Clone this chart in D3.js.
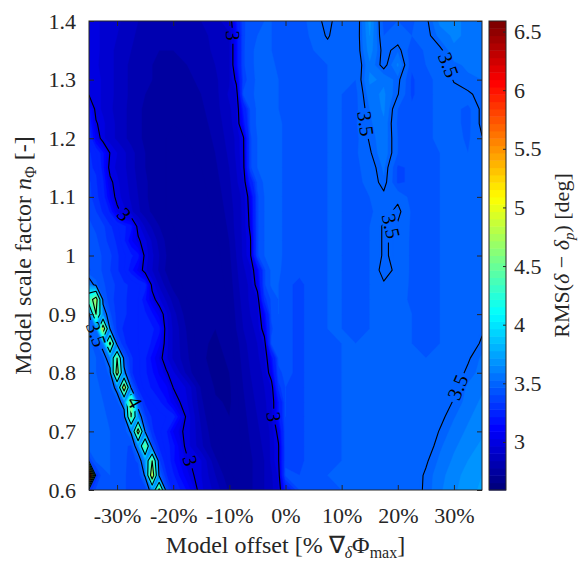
<!DOCTYPE html>
<html>
<head>
<meta charset="utf-8">
<script src="https://cdn.jsdelivr.net/npm/d3@7"></script>
<style>
  body { margin: 0; background: #fff; }
  svg { display: block; }
  svg text { font-family: "Liberation Serif", "Times New Roman", serif !important; }
</style>
</head>
<body>
<svg id="chart" width="580" height="563"></svg>
<script>
// Grid columns: model offset in % of the max gradient
const xPct = [-35, -33.75, -32.5, -31.25, -30, -28.75, -27.5, -26.25, -25, -23.75, -22.5, -21.25, -20,
  -17.5, -15, -12.5,
  -10, -8.75, -7.5, -6.25, -5, -3.75, -2.5, -1.25, 0,
  2.5, 5, 7.5, 10, 12.5, 15, 17.5, 20, 22.5, 25, 27.5, 30, 32.5, 35];

// Grid rows: model scale factor, top row first
const yGrid = [1.4, 1.375, 1.35, 1.325, 1.3, 1.275, 1.25, 1.225, 1.2, 1.175, 1.15, 1.125, 1.1, 1.075, 1.05, 1.025, 1.0,
  0.975, 0.95, 0.925, 0.9, 0.875, 0.85, 0.825, 0.8, 0.775, 0.75, 0.725, 0.7, 0.675, 0.65, 0.625, 0.6];

// RMS(delta - delta_p) in degrees, one row per scale factor
const rms = [
  [2.97,2.95,2.93,2.91,2.90,2.88,2.86,2.84,2.83,2.82,2.81,2.81,2.81,2.82,2.84,2.87, 2.92,3.17,3.38, 3.42,3.43,3.44,3.44,3.43,3.42,3.42, 3.46,3.53,3.44,3.44,3.66,3.42,3.44,3.43,3.48,3.605,3.60,3.58,3.57],
  [2.97,2.95,2.93,2.91,2.89,2.87,2.85,2.83,2.82,2.81,2.80,2.80,2.80,2.81,2.83,2.85, 2.88,3.12,3.38, 3.42,3.44,3.45,3.44,3.43,3.42,3.42, 3.45,3.51,3.44,3.45,3.64,3.44,3.45,3.44,3.47,3.56,3.60,3.58,3.57],
  [2.98,2.95,2.93,2.90,2.88,2.86,2.84,2.82,2.81,2.80,2.79,2.79,2.79,2.80,2.82,2.85, 2.88,3.12,3.38, 3.43,3.45,3.45,3.44,3.43,3.42,3.42, 3.44,3.47,3.44,3.45,3.62,3.47,3.53,3.40,3.45,3.48,3.58,3.57,3.56],
  [2.98,2.95,2.92,2.90,2.88,2.85,2.83,2.81,2.80,2.79,2.78,2.78,2.78,2.79,2.81,2.84, 2.88,3.12,3.38, 3.43,3.45,3.46,3.45,3.43,3.42,3.42, 3.43,3.44,3.44,3.44,3.58,3.47,3.60,3.40,3.44,3.46,3.527,3.55,3.55],
  [2.98,2.96,2.93,2.90,2.88,2.85,2.83,2.81,2.80,2.79,2.78,2.77,2.77,2.78,2.80,2.83, 2.88,3.03,3.36, 3.42,3.45,3.46,3.45,3.44,3.42,3.42, 3.43,3.44,3.44,3.44,3.60,3.58,3.52,3.38,3.43,3.45,3.505,3.53,3.54],
  [2.99,2.96,2.93,2.90,2.88,2.85,2.83,2.81,2.79,2.78,2.77,2.76,2.76,2.77,2.79,2.82, 2.90,2.94,3.40, 3.43,3.45,3.46,3.45,3.44,3.43,3.42, 3.43,3.44,3.44,3.42,3.57,3.60,3.505,3.38,3.43,3.45,3.48,3.49,3.52],
  [3.16,2.96,2.93,2.90,2.87,2.85,2.82,2.80,2.78,2.77,2.76,2.75,2.75,2.76,2.78,2.82, 2.88,2.92,3.20,3.40, 3.45,3.46,3.46,3.44,3.43,3.42, 3.43,3.44,3.44,3.42,3.54,3.60,3.44,3.40,3.43,3.45,3.46,3.42,3.52],
  [3.20,3.013,2.95,2.91,2.88,2.85,2.82,2.80,2.78,2.76,2.75,2.74,2.74,2.75,2.77,2.81, 2.87,2.92,3.14,3.40, 3.45,3.46,3.46,3.45,3.43,3.42, 3.43,3.44,3.44,3.43,3.53,3.58,3.43,3.41,3.43,3.45,3.46,3.42,3.52],
  [3.25,3.075,2.95,2.91,2.88,2.85,2.82,2.80,2.78,2.76,2.75,2.74,2.73,2.74,2.76,2.80, 2.86,2.90,2.985,3.38, 3.44,3.46,3.46,3.45,3.43,3.42, 3.43,3.44,3.44,3.42,3.51,3.58,3.44,3.41,3.43,3.45,3.46,3.43,3.495],
  [3.30,3.25,3.15,2.995,2.94,2.90,2.86,2.82,2.79,2.77,2.75,2.74,2.73,2.73,2.75,2.79, 2.85,2.90,2.98,3.38, 3.44,3.46,3.46,3.45,3.43,3.42, 3.43,3.44,3.44,3.43,3.49,3.58,3.44,3.41,3.43,3.44,3.45,3.44,3.46],
  [3.30,3.28,3.16,2.96,2.93,2.90,2.86,2.82,2.79,2.77,2.75,2.74,2.73,2.73,2.74,2.78, 2.84,2.89,2.97,3.38, 3.44,3.46,3.46,3.45,3.43,3.42, 3.43,3.44,3.44,3.43,3.46,3.55,3.38,3.40,3.42,3.44,3.45,3.44,3.45],
  [3.35,3.30,3.20,3.03,2.95,2.91,2.87,2.83,2.80,2.77,2.75,2.74,2.73,2.72,2.73,2.77, 2.83,2.88,2.93,3.22,3.40, 3.45,3.46,3.45,3.43,3.42, 3.43,3.44,3.44,3.43,3.45,3.53,3.38,3.40,3.42,3.44,3.45,3.44,3.45],
  [3.35,3.32,3.22,3.085,2.96,2.92,2.88,2.84,2.80,2.77,2.75,2.74,2.73,2.72,2.72,2.76, 2.82,2.87,2.90,3.06,3.38, 3.44,3.46,3.45,3.43,3.42, 3.43,3.44,3.44,3.43,3.44,3.48,3.48,3.42,3.42,3.44,3.45,3.44,3.45],
  [3.38,3.34,3.28,3.18,3.035,2.95,2.90,2.85,2.81,2.78,2.76,2.74,2.73,2.72,2.72,2.75, 2.81,2.86,2.90,3.04,3.38, 3.44,3.46,3.45,3.43,3.42, 3.43,3.44,3.44,3.43,3.43,3.47,3.52,3.43,3.42,3.44,3.45,3.44,3.45],
  [3.40,3.38,3.35,3.30,3.25,3.20,3.16,2.96,2.88,2.83,2.79,2.76,2.74,2.72,2.71,2.74, 2.80,2.86,2.90,3.025,3.38, 3.44,3.46,3.45,3.43,3.42, 3.43,3.44,3.44,3.43,3.44,3.51,3.49,3.43,3.42,3.44,3.45,3.44,3.45],
  [3.42,3.40,3.36,3.32,3.28,3.20,3.10,3.02,2.95,2.88,2.82,2.78,2.75,2.72,2.71,2.73, 2.79,2.85,2.90,2.99,3.38, 3.44,3.46,3.45,3.43,3.42, 3.43,3.44,3.44,3.43,3.44,3.51,3.48,3.43,3.42,3.44,3.45,3.44,3.45],
  [3.42,3.42,3.38,3.35,3.30,3.25,3.20,3.16,2.97,2.90,2.84,2.79,2.76,2.72,2.70,2.72, 2.78,2.84,2.90,2.985,3.38, 3.44,3.46,3.45,3.43,3.42, 3.43,3.44,3.44,3.43,3.44,3.51,3.48,3.43,3.42,3.44,3.45,3.44,3.45],
  [3.38,3.42,3.38,3.34,3.30,3.24,3.16,3.075,2.95,2.89,2.83,2.78,2.75,2.72,2.70,2.71, 2.77,2.83,2.88,2.92,3.10,3.38, 3.45,3.45,3.42,3.40, 3.42,3.44,3.44,3.43,3.44,3.53,3.48,3.43,3.42,3.44,3.45,3.44,3.45],
  [3.60,3.45,3.40,3.36,3.33,3.30,3.28,3.25,3.22,2.97,2.88,2.82,2.77,2.72,2.70,2.70, 2.76,2.82,2.87,2.90,3.05,3.38, 3.45,3.44,3.40,3.38, 3.41,3.44,3.44,3.43,3.44,3.49,3.47,3.43,3.42,3.44,3.45,3.45,3.46],
  [4.30,4.70,3.45,3.35,3.33,3.30,3.27,3.24,3.15,3.04,2.95,2.88,2.82,2.74,2.70,2.70, 2.75,2.81,2.86,2.90,2.94,3.315,3.40, 3.44,3.40,3.38, 3.41,3.44,3.44,3.43,3.44,3.46,3.46,3.43,3.42,3.44,3.45,3.46,3.47],
  [3.45,4.50,3.60,3.40,3.32,3.30,3.27,3.24,3.20,3.15,3.065,2.95,2.86,2.76,2.70,2.70, 2.74,2.80,2.85,2.89,2.92,3.12,3.40, 3.44,3.40,3.38, 3.41,3.44,3.44,3.43,3.44,3.46,3.46,3.44,3.43,3.44,3.46,3.47,3.48],
  [3.45,3.55,4.80,3.48,3.32,3.28,3.26,3.24,3.22,3.20,3.16,2.96,2.88,2.78,2.70,2.69, 2.73,2.79,2.84,2.88,2.90,3.06,3.38, 3.43,3.40,3.38, 3.41,3.44,3.44,3.43,3.44,3.45,3.45,3.44,3.43,3.44,3.46,3.47,3.49],
  [3.45,3.42,3.58,4.60,3.40,3.30,3.26,3.24,3.22,3.18,3.10,2.96,2.88,2.79,2.70,2.68, 2.71,2.77,2.82,2.86,2.89,2.95,3.40, 3.42,3.40,3.38, 3.41,3.43,3.44,3.44,3.44,3.45,3.45,3.44,3.43,3.44,3.45,3.46,3.51],
  [3.46,3.44,3.42,3.60,4.50,3.42,3.30,3.25,3.20,3.12,3.035,2.95,2.88,2.80,2.70,2.67, 2.70,2.76,2.81,2.85,2.88,2.92,3.14,3.40, 3.40,3.38, 3.41,3.43,3.44,3.44,3.44,3.45,3.45,3.44,3.44,3.44,3.46,3.49,3.55],
  [3.46,3.44,3.42,3.45,4.70,3.55,3.30,3.25,3.20,3.15,3.08,3.013,2.95,2.82,2.72,2.67, 2.69,2.75,2.80,2.84,2.87,2.90,3.07,3.38, 3.40,3.38, 3.41,3.43,3.44,3.44,3.44,3.45,3.45,3.45,3.44,3.45,3.46,3.515,3.56],
  [3.46,3.45,3.43,3.42,3.55,4.80,3.45,3.28,3.22,3.18,3.14,3.10,2.998,2.93,2.78,2.68, 2.68,2.73,2.79,2.83,2.86,2.89,2.94,3.315, 3.39,3.38, 3.41,3.43,3.44,3.44,3.45,3.45,3.45,3.45,3.45,3.45,3.48,3.55,3.58],
  [3.47,3.46,3.44,3.43,3.42,3.58,4.60,3.40,3.28,3.24,3.20,3.15,3.055,2.94,2.80,2.70, 2.68,2.72,2.78,2.82,2.85,2.88,2.92,3.17, 3.39,3.38, 3.41,3.43,3.44,3.44,3.45,3.45,3.45,3.45,3.45,3.45,3.507,3.56,3.60],
  [3.47,3.46,3.45,3.43,3.42,3.42,4.50,3.62,3.35,3.28,3.26,3.24,3.22,2.97,2.82,2.72, 2.69,2.72,2.77,2.81,2.84,2.87,2.92,3.17, 3.39,3.38, 3.41,3.43,3.44,3.44,3.45,3.45,3.45,3.45,3.46,3.48,3.535,3.58,3.62],
  [3.47,3.46,3.45,3.44,3.42,3.40,3.52,4.70,3.48,3.30,3.25,3.20,3.085,2.96,2.84,2.74, 2.70,2.72,2.76,2.80,2.83,2.86,2.90,3.04, 3.38,3.38, 3.41,3.43,3.44,3.44,3.45,3.45,3.45,3.45,3.45,3.505,3.56,3.60,3.63],
  [3.47,3.46,3.45,3.44,3.43,3.40,3.38,3.60,4.50,3.40,3.28,3.22,3.16,2.96,2.85,2.76, 2.71,2.72,2.75,2.79,2.82,2.85,2.90,2.99, 3.38,3.38, 3.41,3.43,3.44,3.44,3.45,3.45,3.45,3.45,3.46,3.53,3.58,3.62,3.65],
  [3.35,3.45,3.45,3.44,3.43,3.40,3.37,3.40,3.65,4.50,3.35,3.25,3.15,3.015,2.94,2.80, 2.72,2.72,2.75,2.78,2.81,2.84,2.90,2.99, 3.38,3.38, 3.41,3.43,3.44,3.44,3.45,3.45,3.45,3.46,3.49,3.55,3.60,3.64,3.67],
  [6.59,3.30,3.43,3.44,3.43,3.40,3.36,3.35,3.52,4.80,3.45,3.30,3.20,3.055,2.94,2.84, 2.75,2.73,2.75,2.78,2.81,2.84,2.88,2.95, 3.40,3.39, 3.42,3.44,3.44,3.45,3.45,3.45,3.45,3.46,3.51,3.57,3.62,3.66,3.69],
  [3.30,3.40,3.43,3.43,3.42,3.40,3.36,3.34,3.35,3.60,4.60,3.40,3.25,3.13,2.95,2.87, 2.78,2.75,2.76,2.78,2.81,2.84,2.88,2.92, 3.20,3.39, 3.42,3.43,3.44,3.45,3.45,3.45,3.45,3.47,3.51,3.58,3.63,3.67,3.70]
];

// Colour limits, filled-band step and labelled contour levels
const cbLimits = [2.59, 6.59];
const fillStep = 0.05;
const lineLevels = [3, 3.5, 4, 4.5, 5, 5.5, 6, 6.5];

// Tick values
const xTicks = [-30, -20, -10, 0, 10, 20, 30];
const yTicks = [0.6, 0.7, 0.8, 0.9, 1, 1.1, 1.2, 1.3, 1.4];
const cbTicks = [3, 3.5, 4, 4.5, 5, 5.5, 6, 6.5];

// Where the in-line contour labels sit (offset %, scale factor)
const labelSpots = [
  { level: 3,   x: -9.6,  y: 1.376 },
  { level: 3,   x: -28.9, y: 1.064 },
  { level: 3,   x: -17.0, y: 0.651 },
  { level: 3,   x: -2.0,  y: 0.723 },
  { level: 3.5, x: 14.8,  y: 1.228 },
  { level: 3.5, x: 29.1,  y: 1.316 },
  { level: 3.5, x: 19.1,  y: 1.043 },
  { level: 3.5, x: 31.25, y: 0.782 },
  { level: 3.5, x: -32.7, y: 0.873 },
  { level: 4,   x: -27.1, y: 0.753 }
];

const ink = "#262626";
const serif = '"Liberation Serif", "Times New Roman", serif';
const fontSize = 22;
const svg = d3.select("#chart");

const plotL = 89, plotR = 482, plotT = 21, plotB = 490;
const x = d3.scaleLinear().domain([-35, 35]).range([plotL, plotR]);
const y = d3.scaleLinear().domain([0.6, 1.4]).range([plotB, plotT]);

// MATLAB-style jet colour map with 64 entries
function jetHex(t) {
  const c = v => Math.max(0, Math.min(1, v));
  return d3.rgb(
    255 * c(Math.min(4 * t - 1.5, -4 * t + 4.5)),
    255 * c(Math.min(4 * t - 0.5, -4 * t + 3.5)),
    255 * c(Math.min(4 * t + 0.5, -4 * t + 2.5))
  ).formatHex();
}
const jet = d3.range(64).map(i => jetHex(i / 63));
const color = d3.scaleQuantize().domain(cbLimits).range(jet);

// Grid index -> data coordinates (non-uniform spacing)
const nx = xPct.length, ny = yGrid.length;
const colIdx = d3.scaleLinear().domain(d3.range(nx)).range(xPct);
const rowIdx = d3.scaleLinear().domain(d3.range(ny)).range(yGrid);
function gridToPx(cx, cy) {
  const i = Math.max(0, Math.min(nx - 1, cx - 0.5));
  const j = Math.max(0, Math.min(ny - 1, cy - 0.5));
  return [x(colIdx(i)), y(rowIdx(j)), i, j];
}
const proj = d3.geoTransform({
  point(cx, cy) { const p = gridToPx(cx, cy); this.stream.point(p[0], p[1]); }
});
const geo = d3.geoPath(proj);
const values = rms.flat();
const contourGen = d3.contours().size([nx, ny]);

// ---------- filled bands ----------
const defs = svg.append("defs");
defs.append("clipPath").attr("id", "plotClip")
  .append("rect").attr("x", plotL).attr("y", plotT)
  .attr("width", plotR - plotL).attr("height", plotB - plotT);

const gFill = svg.append("g").attr("clip-path", "url(#plotClip)");
gFill.append("rect")
  .attr("x", plotL).attr("y", plotT)
  .attr("width", plotR - plotL).attr("height", plotB - plotT)
  .attr("fill", color(cbLimits[0] + fillStep / 2));

const fillLevels = d3.range(1, Math.round((cbLimits[1] - cbLimits[0]) / fillStep))
  .map(k => +(cbLimits[0] + k * fillStep).toFixed(4));
gFill.selectAll("path.band")
  .data(contourGen.thresholds(fillLevels)(values))
  .join("path")
  .attr("class", "band")
  .attr("d", geo)
  .attr("fill", d => color(d.value + fillStep / 2))
  .attr("stroke", d => color(d.value + fillStep / 2))
  .attr("stroke-width", 0.4);

// ---------- contour lines ----------
function polylinesOf(geom) {
  const out = [];
  for (const poly of geom.coordinates) {
    for (const ring0 of poly) {
      const ring = ring0.slice();
      const f = ring[0], l = ring[ring.length - 1];
      if (f[0] !== l[0] || f[1] !== l[1]) ring.push(f);
      const pts = ring.map(p => gridToPx(p[0], p[1]));
      let cur = null;
      for (let k = 1; k < pts.length; k++) {
        const a = pts[k - 1], b = pts[k];
        const onEdge = (a[2] === 0 && b[2] === 0) || (a[2] === nx - 1 && b[2] === nx - 1) ||
                       (a[3] === 0 && b[3] === 0) || (a[3] === ny - 1 && b[3] === ny - 1);
        if (onEdge) { cur = null; continue; }
        if (!cur) { cur = [[a[0], a[1]]]; out.push(cur); }
        cur.push([b[0], b[1]]);
      }
    }
  }
  return out;
}
const lineSets = contourGen.thresholds(lineLevels)(values).map(g => ({ value: g.value, lines: polylinesOf(g) }));

const mask = defs.append("mask").attr("id", "labelGaps")
  .attr("maskUnits", "userSpaceOnUse")
  .attr("x", 0).attr("y", 0).attr("width", 580).attr("height", 563);
mask.append("rect").attr("x", 0).attr("y", 0).attr("width", 580).attr("height", 563).attr("fill", "#fff");

const gLines = svg.append("g").attr("clip-path", "url(#plotClip)")
  .append("g").attr("mask", "url(#labelGaps)");
const lineGen = d3.line();
gLines.selectAll("path")
  .data(lineSets)
  .join("path")
  .attr("d", d => d.lines.map(l => lineGen(l)).join(""))
  .attr("fill", "none")
  .attr("stroke", "#000")
  .attr("stroke-width", 1.1)
  .attr("stroke-linejoin", "round")
  .attr("stroke-linecap", "round");

// ---------- in-line labels ----------
const gLabels = svg.append("g");
labelSpots.forEach(s => {
  const set = lineSets.find(d => Math.abs(d.value - s.level) < 1e-9);
  if (!set || !set.lines.length) return;
  const tx = x(s.x), ty = y(s.y);
  let best = null;
  set.lines.forEach(line => line.forEach((p, k) => {
    const dd = (p[0] - tx) ** 2 + (p[1] - ty) ** 2;
    if (!best || dd < best.dd) best = { dd, line, k };
  }));
  const L = best.line, k = best.k;
  const p0 = L[Math.max(0, k - 2)], p1 = L[Math.min(L.length - 1, k + 2)];
  let ang = Math.atan2(p1[1] - p0[1], p1[0] - p0[0]) * 180 / Math.PI;
  if (ang > 90) ang -= 180;
  if (ang <= -90) ang += 180;
  const [px, py] = L[k];
  const t = gLabels.append("text")
    .attr("transform", `translate(${px},${py}) rotate(${ang})`)
    .attr("text-anchor", "middle")
    .attr("dy", "0.33em")
    .style("font-family", serif)
    .attr("font-size", 20)
    .attr("fill", "#000")
    .text(String(s.level));
  const w = t.node().getComputedTextLength() + 6;
  mask.append("rect")
    .attr("x", -w / 2).attr("y", -8)
    .attr("width", w).attr("height", 16)
    .attr("transform", `translate(${px},${py}) rotate(${ang})`)
    .attr("fill", "#000");
});

// ---------- axes ----------
const axisStyle = g => {
  g.select(".domain").remove();
  g.attr("color", ink).attr("font-size", fontSize).attr("font-family", null);
  g.selectAll("text").style("font-family", serif).attr("fill", ink);
  g.selectAll(".tick line").attr("stroke-width", 1);
};
svg.append("g").attr("transform", `translate(0,${plotB})`)
  .call(d3.axisBottom(x).tickValues(xTicks).tickSize(-5).tickPadding(17).tickFormat(d => `${d}%`))
  .call(axisStyle);
svg.append("g").attr("transform", `translate(0,${plotT})`)
  .call(d3.axisTop(x).tickValues(xTicks).tickSize(-5).tickFormat(""))
  .call(axisStyle);
svg.append("g").attr("transform", `translate(${plotL},0)`)
  .call(d3.axisLeft(y).tickValues(yTicks).tickSize(-5).tickPadding(13).tickFormat(d => String(d)))
  .call(axisStyle);
svg.append("g").attr("transform", `translate(${plotR},0)`)
  .call(d3.axisRight(y).tickValues(yTicks).tickSize(-5).tickFormat(""))
  .call(axisStyle);

svg.append("rect")
  .attr("x", plotL).attr("y", plotT)
  .attr("width", plotR - plotL).attr("height", plotB - plotT)
  .attr("fill", "none").attr("stroke", ink).attr("stroke-width", 1);

// ---------- colour bar ----------
const cbL = 489, cbR = 506;
const cbY = d3.scaleLinear().domain(cbLimits).range([plotB, plotT]);
const cbStep = (cbLimits[1] - cbLimits[0]) / jet.length;
svg.append("g").selectAll("rect")
  .data(jet)
  .join("rect")
  .attr("x", cbL)
  .attr("width", cbR - cbL)
  .attr("y", (d, i) => cbY(cbLimits[0] + (i + 1) * cbStep))
  .attr("height", (d, i) => cbY(cbLimits[0] + i * cbStep) - cbY(cbLimits[0] + (i + 1) * cbStep) + 0.5)
  .attr("fill", d => d);
svg.append("g").attr("transform", `translate(${cbR},0)`)
  .call(d3.axisRight(cbY).tickValues(cbTicks).tickSize(-3).tickPadding(8).tickFormat(d => String(d)))
  .call(axisStyle);
svg.append("rect")
  .attr("x", cbL).attr("y", plotT)
  .attr("width", cbR - cbL).attr("height", plotB - plotT)
  .attr("fill", "none").attr("stroke", ink).attr("stroke-width", 1);

// ---------- axis titles ----------
const titleSize = 24, sub = 16;
const title = (sel, size) => sel.style("font-family", serif).attr("font-size", size).attr("fill", ink);
const xt = svg.append("text")
  .attr("x", (plotL + plotR) / 2).attr("y", 553)
  .attr("text-anchor", "middle").call(title, titleSize);
xt.append("tspan").text("Model offset [% \u2207");
xt.append("tspan").attr("font-style", "italic").attr("font-size", sub).attr("dy", 5).text("\u03b4");
xt.append("tspan").attr("dy", -5).text("\u03a6");
xt.append("tspan").attr("font-size", sub).attr("dy", 5).text("max");
xt.append("tspan").attr("dy", -5).text("]");

const yt = svg.append("text")
  .attr("transform", `translate(31,${(plotT + plotB) / 2}) rotate(-90)`)
  .attr("text-anchor", "middle").call(title, titleSize);
yt.append("tspan").text("Model scale factor ");
yt.append("tspan").attr("font-style", "italic").text("n");
yt.append("tspan").attr("font-size", sub).attr("dy", 5).text("\u03a6");
yt.append("tspan").attr("dy", -5).text(" [-]");

const ct = svg.append("text")
  .attr("transform", `translate(569,${(plotT + plotB) / 2}) rotate(-90)`)
  .attr("text-anchor", "middle").call(title, fontSize);
ct.append("tspan").text("RMS(");
ct.append("tspan").attr("font-style", "italic").text("\u03b4");
ct.append("tspan").text(" \u2212 ");
ct.append("tspan").attr("font-style", "italic").text("\u03b4");
ct.append("tspan").attr("font-style", "italic").attr("font-size", 15).attr("dy", 5).text("p");
ct.append("tspan").attr("dy", -5).text(") [deg]");
</script>
</body>
</html>
